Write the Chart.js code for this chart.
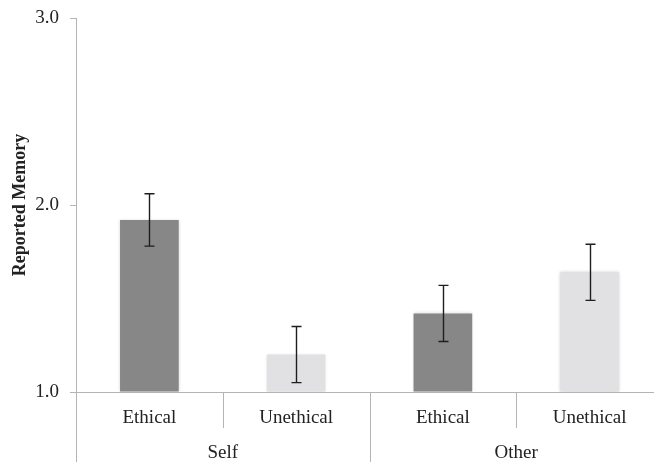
<!DOCTYPE html>
<html>
<head>
<meta charset="utf-8">
<script src="https://cdn.jsdelivr.net/npm/chart.js@4/dist/chart.umd.min.js"></script>
<style>
  html, body { margin: 0; padding: 0; background: #fff; overflow: hidden; }
  #wrap { width: 664px; height: 462px; }
</style>
</head>
<body>
<div id="wrap"><canvas id="c" width="664" height="462"></canvas></div>
<script>
// Condition labels and their groups
const conditions = ['Ethical', 'Unethical', 'Ethical', 'Unethical'];
const groups = ['Self', 'Other'];
// Mean reported memory per condition
const means = [1.92, 1.20, 1.42, 1.64];
// Error bar extents (lower / upper)
const errLow = [1.78, 1.05, 1.27, 1.49];
const errHigh = [2.06, 1.35, 1.57, 1.79];
// Y axis tick values
const yTicks = [1.0, 2.0, 3.0];

const barColors = ['#878787', '#e1e1e3', '#878787', '#e1e1e3'];
const axisColor = '#b4b4b4';
const textColor = '#222222';
const serif = '"Liberation Serif", "Times New Roman", serif';

// Draws error bars, category dividers, group labels and the axis extension
const decorations = {
  id: 'decorations',
  beforeDatasetDraw(chart) {
    const ctx = chart.ctx;
    ctx.save();
    ctx.shadowColor = 'rgba(0,0,0,0.18)';
    ctx.shadowBlur = 3;
  },
  afterDatasetDraw(chart) {
    chart.ctx.restore();
  },
  afterDraw(chart) {
    const ctx = chart.ctx;
    const x = chart.scales.x;
    const y = chart.scales.y;
    const area = chart.chartArea;
    const H = chart.height;
    ctx.save();

    // error bars
    ctx.strokeStyle = '#1e1e1e';
    ctx.lineWidth = 1.4;
    means.forEach((m, i) => {
      const cx = Math.round(x.getPixelForValue(i)) + 0.5;
      const top = y.getPixelForValue(errHigh[i]);
      const bot = y.getPixelForValue(errLow[i]);
      ctx.beginPath();
      ctx.moveTo(cx, top); ctx.lineTo(cx, bot);
      ctx.moveTo(cx - 5, top); ctx.lineTo(cx + 5, top);
      ctx.moveTo(cx - 5, bot); ctx.lineTo(cx + 5, bot);
      ctx.stroke();
    });

    // y axis line continues down through the category band
    ctx.strokeStyle = axisColor;
    ctx.lineWidth = 1;
    const ax = Math.round(area.left) + 0.5;
    ctx.beginPath();
    ctx.moveTo(ax, area.bottom); ctx.lineTo(ax, H);
    ctx.stroke();

    // dividers between conditions and groups
    const step = x.getPixelForValue(1) - x.getPixelForValue(0);
    const perGroup = conditions.length / groups.length;
    for (let i = 1; i < conditions.length; i++) {
      const px = Math.round(x.getPixelForValue(i) - step / 2) + 0.5;
      const isGroupEdge = i % perGroup === 0;
      ctx.beginPath();
      ctx.moveTo(px, area.bottom);
      ctx.lineTo(px, isGroupEdge ? H : area.bottom + 36);
      ctx.stroke();
    }

    // group labels
    ctx.fillStyle = textColor;
    ctx.font = '19px ' + serif;
    ctx.textAlign = 'center';
    ctx.textBaseline = 'middle';
    groups.forEach((g, gi) => {
      const first = x.getPixelForValue(gi * perGroup);
      const last = x.getPixelForValue(gi * perGroup + perGroup - 1);
      ctx.fillText(g, (first + last) / 2, area.bottom + 61);
    });
    ctx.restore();
  }
};

new Chart(document.getElementById('c'), {
  type: 'bar',
  data: {
    labels: conditions,
    datasets: [{
      data: means,
      backgroundColor: barColors,
      borderWidth: 0,
      categoryPercentage: 1.0,
      barPercentage: 0.4,
      base: 1
    }]
  },
  options: {
    responsive: false,
    animation: false,
    layout: { padding: { top: 18, right: 1, left: 0, bottom: 0 } },
    plugins: { legend: { display: false }, tooltip: { enabled: false } },
    scales: {
      x: {
        offset: true,
        grid: { display: false },
        border: { display: true, color: axisColor, width: 1 },
        ticks: { color: textColor, font: { family: serif, size: 19 }, padding: 7 },
        afterFit(scale) { scale.height = 70; scale.paddingLeft = 0; scale.paddingRight = 0; }
      },
      y: {
        min: 1, max: 3,
        afterBuildTicks(scale) { scale.ticks = yTicks.map(v => ({ value: v })); },
        grid: { drawOnChartArea: false, color: axisColor, tickLength: 6 },
        border: { display: true, color: axisColor, width: 1 },
        ticks: {
          color: textColor,
          font: { family: serif, size: 19 },
          padding: 11,
          callback: v => v.toFixed(1)
        },
        title: {
          display: true,
          text: 'Reported Memory',
          color: textColor,
          font: { family: serif, size: 18, weight: 'bold' },
          padding: { top: 10, bottom: 0 }
        },
        afterFit(scale) { scale.width = 76; scale.paddingTop = 0; scale.paddingBottom = 0; }
      }
    }
  },
  plugins: [decorations]
});
</script>
</body>
</html>
